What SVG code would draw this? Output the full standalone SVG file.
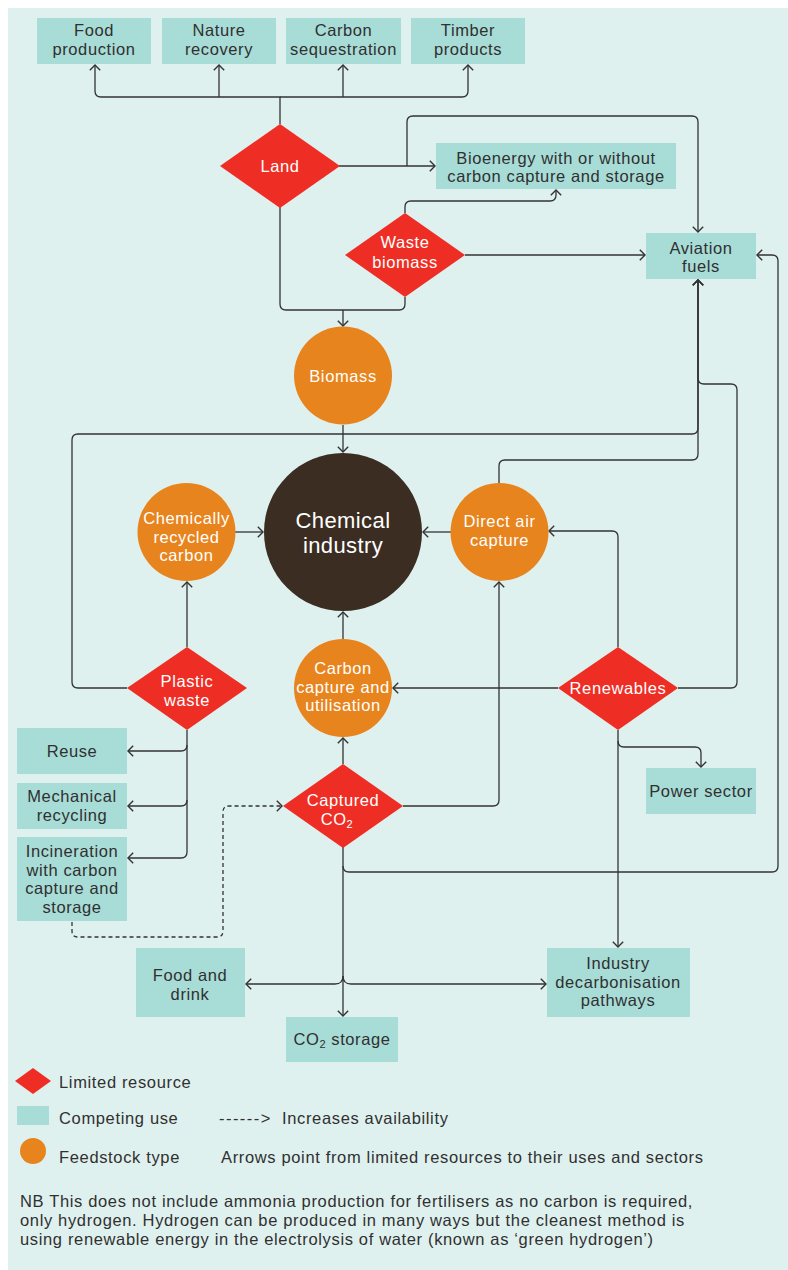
<svg xmlns="http://www.w3.org/2000/svg" width="788" height="1270" viewBox="0 0 788 1270">
<defs>
<marker id="arr" viewBox="0 0 7 12" refX="6" refY="6" markerWidth="7" markerHeight="12" markerUnits="userSpaceOnUse" orient="auto">
<path d="M0.8,0.8 L6,6 L0.8,11.2" fill="none" stroke="#333" stroke-width="1.4"/>
</marker>
<style>
.bg{fill:#dff1ef}
.box{fill:#a8dcd7}
.res{fill:#ee2e24}
.feed{fill:#e8841d}
.core{fill:#3b2d22}
.dk{font-family:"Liberation Sans",Arial,sans-serif;font-size:16.5px;letter-spacing:0.6px;fill:#303030;text-anchor:middle}
.wt{font-family:"Liberation Sans",Arial,sans-serif;font-size:16.5px;letter-spacing:0.6px;fill:#fff;text-anchor:middle}
.big{font-size:22px;letter-spacing:0.4px}
.lg{font-family:"Liberation Sans",Arial,sans-serif;font-size:16.5px;letter-spacing:0.65px;fill:#303030}
.c{fill:none;stroke:#333;stroke-width:1.3}
.c path{marker-end:url(#arr)}
.c path.n{marker-end:none}
.dash{stroke-dasharray:4 3}
</style>
</defs>
<rect class="bg" x="8" y="8" width="780" height="1262"/>

<g id="connectors" class="c">
<path d="M280,124 V97 H101 Q95,97 95,91 V65"/>
<path d="M280,97 H462 Q468,97 468,91 V65"/>
<path d="M219,97 V65"/>
<path d="M343,97 V65"/>
<path d="M339,166 H435"/>
<path d="M407,166 V122 Q407,116 413,116 H692 Q698,116 698,122 V232"/>
<path d="M405,213 V207 Q405,201 411,201 H550 Q556,201 556,195 V190"/>
<path d="M465,255 H645"/>
<path class="n" d="M280,207 V304 Q280,310 286,310 H399 Q405,310 405,304 V297"/>
<path d="M343,310 V326"/>
<path d="M343,425 V452"/>
<path d="M235,532 H263"/>
<path d="M451,532 H423"/>
<path d="M343,639 V612"/>
<path d="M499,483 V466 Q499,460 505,460 H692 Q698,460 698,454 V280"/>
<path d="M127,688 H78 Q72,688 72,682 V440 Q72,434 78,434 H692 Q698,434 698,428 V280"/>
<path d="M678,688 H731 Q737,688 737,682 V390 Q737,384 731,384 H704 Q698,384 698,378 V280"/>
<path d="M343,847 V866 Q343,872 349,872 H772 Q778,872 778,866 V261 Q778,255 772,255 H757"/>
<path d="M343,764 V738"/>
<path d="M403,806 H493 Q499,806 499,800 V582"/>
<path d="M187,647 V582"/>
<path d="M187,730 V745 Q187,751 181,751 H128"/>
<path d="M187,745 V800 Q187,806 181,806 H128"/>
<path d="M187,800 V852 Q187,858 181,858 H128"/>
<path class="dash" d="M72,922 V931 Q72,937 78,937 H217 Q223,937 223,931 V812 Q223,806 229,806 H282"/>
<path d="M558,688 H393"/>
<path d="M618,647 V537 Q618,531 612,531 H549"/>
<path d="M618,730 V741 Q618,747 624,747 H695 Q701,747 701,753 V767"/>
<path d="M618,741 V947"/>
<path d="M343,866 V1016"/>
<path d="M343,976 Q343,984 335,984 H246"/>
<path d="M343,976 Q343,984 351,984 H546"/>
</g>

<g id="food-production"><rect class="box" x="37" y="18" width="114" height="46"/><text class="dk" x="94" y="36">Food<tspan x="94" dy="19">production</tspan></text></g>
<g id="nature-recovery"><rect class="box" x="162" y="18" width="114" height="46"/><text class="dk" x="219" y="36">Nature<tspan x="219" dy="19">recovery</tspan></text></g>
<g id="carbon-sequestration"><rect class="box" x="286" y="18" width="115" height="46"/><text class="dk" x="343.5" y="36">Carbon<tspan x="343.5" dy="19">sequestration</tspan></text></g>
<g id="timber-products"><rect class="box" x="411" y="18" width="114" height="46"/><text class="dk" x="468" y="36">Timber<tspan x="468" dy="19">products</tspan></text></g>

<g id="land"><polygon class="res" points="220,166 280,124 340,166 280,208"/><text class="wt" x="280" y="172">Land</text></g>
<g id="bioenergy"><rect class="box" x="436" y="143" width="240" height="46"/><text class="dk" x="556" y="163.5">Bioenergy with or without<tspan x="556" dy="18.6">carbon capture and storage</tspan></text></g>
<g id="aviation-fuels"><rect class="box" x="646" y="233" width="110" height="46"/><text class="dk" x="701" y="253.5">Aviation<tspan x="701" dy="18.6">fuels</tspan></text></g>
<g id="waste-biomass"><polygon class="res" points="345,255 405,213 465,255 405,297"/><text class="wt" x="405" y="248">Waste<tspan x="405" dy="19.5">biomass</tspan></text></g>

<g id="biomass"><circle class="feed" cx="343" cy="375.5" r="49"/><text class="wt" x="343" y="381.5">Biomass</text></g>
<g id="chemical-industry"><circle class="core" cx="343" cy="532" r="79"/><text class="wt big" x="343" y="528">Chemical<tspan x="343" dy="25">industry</tspan></text></g>
<g id="chemically-recycled-carbon"><circle class="feed" cx="186.5" cy="532" r="49"/><text class="wt" x="186.5" y="524">Chemically<tspan x="186.5" dy="18.6">recycled</tspan><tspan x="186.5" dy="18.6">carbon</tspan></text></g>
<g id="direct-air-capture"><circle class="feed" cx="499.5" cy="532" r="49"/><text class="wt" x="499.5" y="527">Direct air<tspan x="499.5" dy="18.6">capture</tspan></text></g>

<g id="plastic-waste"><polygon class="res" points="127,688 187,647 247,688 187,730"/><text class="wt" x="187" y="687">Plastic<tspan x="187" dy="19">waste</tspan></text></g>
<g id="carbon-capture-utilisation"><circle class="feed" cx="343" cy="688" r="49"/><text class="wt" x="343" y="674">Carbon<tspan x="343" dy="18.6">capture and</tspan><tspan x="343" dy="18.6">utilisation</tspan></text></g>
<g id="renewables"><polygon class="res" points="558,688 618,647 678,688 618,730"/><text class="wt" x="618" y="694">Renewables</text></g>

<g id="reuse"><rect class="box" x="17" y="728" width="110" height="46"/><text class="dk" x="72" y="757">Reuse</text></g>
<g id="mechanical-recycling"><rect class="box" x="17" y="783" width="110" height="46"/><text class="dk" x="72" y="802">Mechanical<tspan x="72" dy="19">recycling</tspan></text></g>
<g id="incineration"><rect class="box" x="17" y="837" width="110" height="84"/><text class="dk" x="72" y="857">Incineration<tspan x="72" dy="18.6">with carbon</tspan><tspan x="72" dy="18.6">capture and</tspan><tspan x="72" dy="18.6">storage</tspan></text></g>

<g id="captured-co2"><polygon class="res" points="283,806 343,764 403,806 343,848"/><text class="wt" x="343" y="806">Captured<tspan x="337" dy="19">CO</tspan><tspan font-size="11" dy="3">2</tspan></text></g>
<g id="power-sector"><rect class="box" x="646" y="768" width="110" height="46"/><text class="dk" x="701" y="797">Power sector</text></g>

<g id="food-and-drink"><rect class="box" x="136" y="948" width="109" height="69"/><text class="dk" x="190" y="981">Food and<tspan x="190" dy="18.6">drink</tspan></text></g>
<g id="co2-storage"><rect class="box" x="286" y="1017" width="112" height="45"/><text class="dk" x="342" y="1045">CO<tspan font-size="11" dy="3">2</tspan><tspan dy="-3"> storage</tspan></text></g>
<g id="industry-decarbonisation"><rect class="box" x="547" y="948" width="143" height="69"/><text class="dk" x="618" y="969">Industry<tspan x="618" dy="18.6">decarbonisation</tspan><tspan x="618" dy="18.6">pathways</tspan></text></g>

<g id="legend">
<polygon class="res" points="15,1081 33,1068 51,1081 33,1094"/>
<text class="lg" x="59" y="1088">Limited resource</text>
<rect class="box" x="17" y="1106" width="32" height="19"/>
<text class="lg" x="59" y="1124">Competing use</text>
<text class="lg" x="219" y="1124" textLength="52" lengthAdjust="spacing">------&gt;</text>
<text class="lg" x="282" y="1124">Increases availability</text>
<circle class="feed" cx="33" cy="1151" r="13"/>
<text class="lg" x="59" y="1163">Feedstock type</text>
<text class="lg" x="221" y="1163">Arrows point from limited resources to their uses and sectors</text>
</g>

<g id="note">
<text class="lg" x="20" y="1207">NB This does not include ammonia production for fertilisers as no carbon is required,<tspan x="20" dy="19">only hydrogen. Hydrogen can be produced in many ways but the cleanest method is</tspan><tspan x="20" dy="19">using renewable energy in the electrolysis of water (known as ‘green hydrogen’)</tspan></text>
</g>
</svg>
